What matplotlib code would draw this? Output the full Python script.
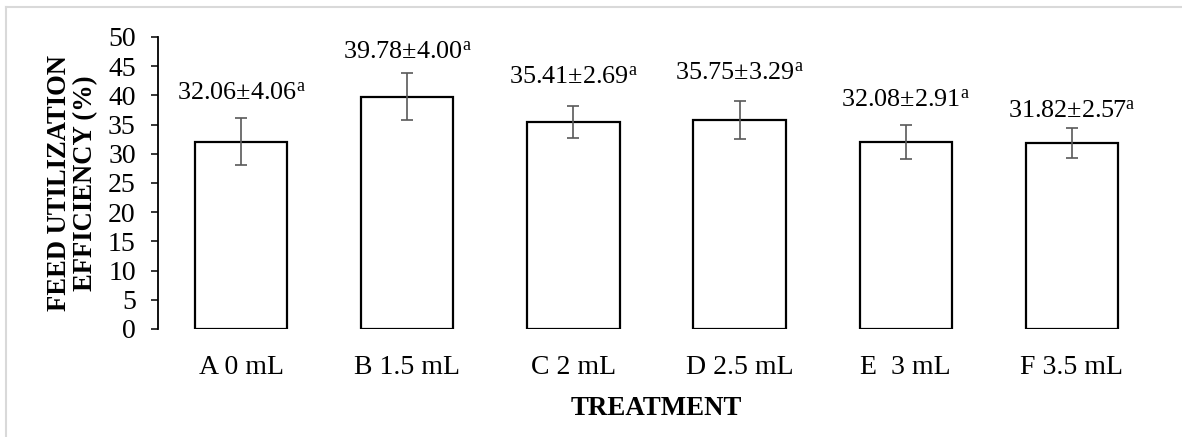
import matplotlib
matplotlib.use("Agg")
import matplotlib.pyplot as plt
from matplotlib.lines import Line2D

plt.rcParams['font.family'] = ['Liberation Serif', 'DejaVu Serif']
plt.rcParams['mathtext.fontset'] = 'custom'
plt.rcParams['mathtext.rm'] = 'Liberation Serif'
plt.rcParams['mathtext.it'] = 'Liberation Serif:italic'
plt.rcParams['mathtext.bf'] = 'Liberation Serif:bold'

# ---- data ----
categories = ["A 0 mL", "B 1.5 mL", "C 2 mL", "D 2.5 mL", "E  3 mL", "F 3.5 mL"]
means = [32.06, 39.78, 35.41, 35.75, 32.08, 31.82]
errors = [4.06, 4.00, 2.69, 3.29, 2.91, 2.57]
letters = ["a", "a", "a", "a", "a", "a"]
yticks = [0, 5, 10, 15, 20, 25, 30, 35, 40, 45, 50]

# label placement offsets above error-bar tops (pixels) - layout only
label_offsets_px = [28, 25, 33, 31, 28, 21]

W, H, DPI = 1182, 437, 100
fig = plt.figure(figsize=(W / DPI, H / DPI), dpi=DPI)
ax = fig.add_axes([158 / W, 1 - 329 / H, (1155 - 158) / W, (329 - 37) / H])

x = list(range(len(categories)))
ax.bar(x, means, width=0.555, color='white', edgecolor='black', linewidth=1.6, zorder=2)
ax.errorbar(x, means, yerr=errors, fmt='none', ecolor='#595959', elinewidth=1.2,
            capsize=4.3, capthick=1.2, zorder=3)

for xi, m, e, l, off in zip(x, means, errors, letters, label_offsets_px):
    ax.annotate(f"{m:.2f}±{e:.2f}" + r"$^{\mathrm{" + l + r"}}$",
                xy=(xi, m + e), xytext=(0, off - 4), textcoords='offset pixels',
                ha='center', va='center', fontsize=18.8, color='black')

ax.set_xlim(-0.5, len(categories) - 0.5)
ax.set_ylim(0, 50)
ax.set_yticks(yticks)
ax.set_xticks(x)
ax.set_xticklabels(categories, fontsize=20)
ax.tick_params(axis='x', length=0, pad=19)
ax.tick_params(axis='y', direction='out', length=5, width=1.1, labelsize=20, pad=11)

for s in ['top', 'right', 'bottom']:
    ax.spines[s].set_visible(False)
ax.spines['left'].set_linewidth(1.3)

ax.set_xlabel("TREATMENT", fontsize=19.4, fontweight='bold', labelpad=11)
ax.set_ylabel("FEED UTILIZATION\nEFFICIENCY (%)", fontsize=19.2, fontweight='bold',
              linespacing=1.08, labelpad=7)

# outer chart-area frame (top and left edges visible)
fig.add_artist(Line2D([6 / W, 1.0], [1 - 7 / H, 1 - 7 / H], transform=fig.transFigure,
                      color='#d9d9d9', linewidth=1.5))
fig.add_artist(Line2D([6 / W, 6 / W], [0.0, 1 - 7 / H], transform=fig.transFigure,
                      color='#d9d9d9', linewidth=1.5))

fig.savefig("out.png", dpi=DPI)
